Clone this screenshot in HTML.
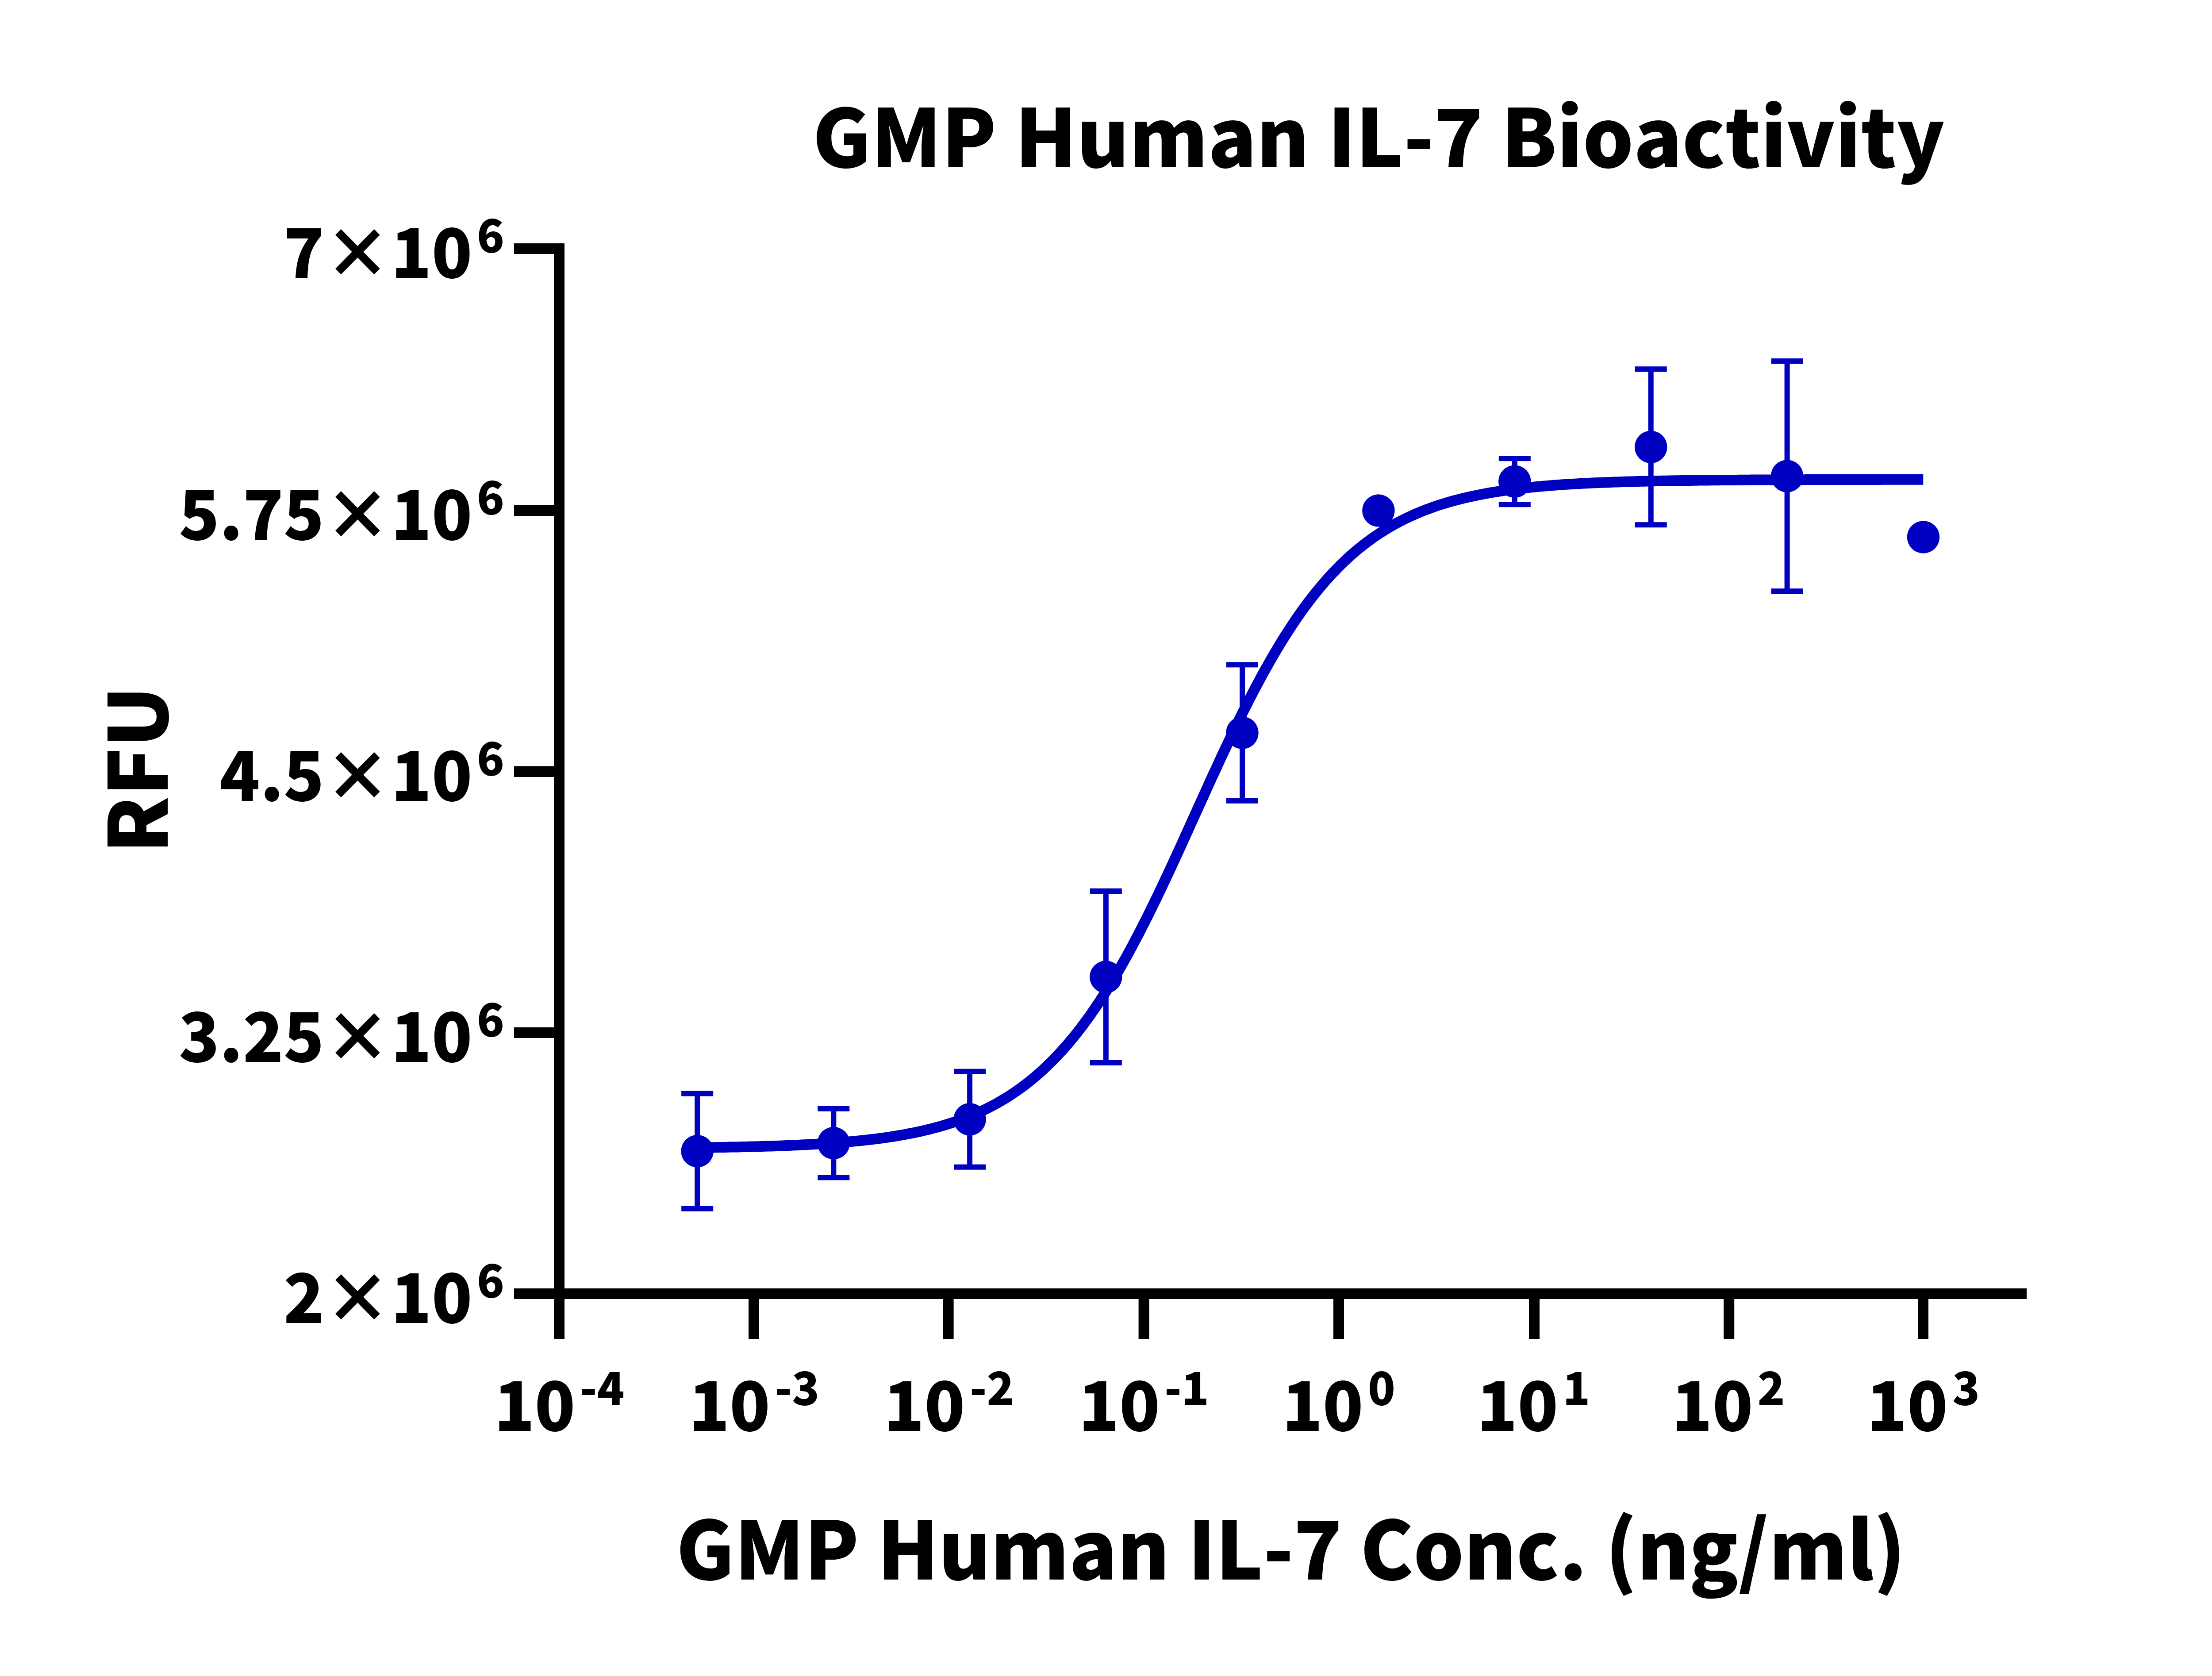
<!DOCTYPE html><html><head><meta charset="utf-8"><title>GMP Human IL-7 Bioactivity</title><style>html,body{margin:0;padding:0;background:#fff;overflow:hidden;}svg{display:block}text{font-family:'Noto Sans CJK SC', 'Noto Sans CJK JP', 'Liberation Sans', sans-serif;font-weight:900;font-kerning:none;fill:#000}</style></head><body>
<svg width="5094" height="3788" viewBox="0 0 5094 3788">
<rect x="0" y="0" width="5094" height="3788" fill="#fff"/>
<g fill="#000">
<rect x="1252" y="550" width="24" height="2476"/>
<rect x="1162" y="550.00" width="114" height="24"/>
<rect x="1162" y="1142.00" width="114" height="24"/>
<rect x="1162" y="1732.00" width="114" height="24"/>
<rect x="1162" y="2322.00" width="114" height="24"/>
<rect x="1162" y="2912.00" width="114" height="24"/>
<rect x="1252" y="2912" width="3329" height="24"/>
<rect x="1252.00" y="2912" width="24" height="114"/>
<rect x="1692.00" y="2912" width="24" height="114"/>
<rect x="2131.60" y="2912" width="24" height="114"/>
<rect x="2573.60" y="2912" width="24" height="114"/>
<rect x="3014.00" y="2912" width="24" height="114"/>
<rect x="3456.00" y="2912" width="24" height="114"/>
<rect x="3896.20" y="2912" width="24" height="114"/>
<rect x="4335.00" y="2912" width="24" height="114"/>
</g>
<text transform="translate(1836.7,378.2) scale(1,1)" font-size="181">GMP Human IL-7 Bioactivity</text>
<text transform="translate(1528.5,3569.5) scale(1,1.01)" font-size="179.8">GMP Human IL-7 Conc. (ng/ml)</text>
<text transform="translate(378.5,1929) rotate(-90)" x="0" y="0" font-size="182.4">RFU</text>
<text transform="translate(1140,628.20) scale(1,1.018)" font-size="150.9" text-anchor="end">7×10<tspan font-size="101.6" dx="10.6" dy="-56.3">6</tspan></text>
<text transform="translate(1140,1220.20) scale(1,1.018)" font-size="150.9" text-anchor="end">5.75×10<tspan font-size="101.6" dx="10.6" dy="-56.3">6</tspan></text>
<text transform="translate(1140,1810.20) scale(1,1.018)" font-size="150.9" text-anchor="end">4.5×10<tspan font-size="101.6" dx="10.6" dy="-56.3">6</tspan></text>
<text transform="translate(1140,2400.20) scale(1,1.018)" font-size="150.9" text-anchor="end">3.25×10<tspan font-size="101.6" dx="10.6" dy="-56.3">6</tspan></text>
<text transform="translate(1140,2990.20) scale(1,1.018)" font-size="150.9" text-anchor="end">2×10<tspan font-size="101.6" dx="10.6" dy="-56.3">6</tspan></text>
<text transform="translate(1264.15,3233.6) scale(1,1.018)" font-size="150.9" text-anchor="middle">10<tspan font-size="101.6" dx="10.3" dy="-56.3">-4</tspan></text>
<text transform="translate(1704.58,3233.6) scale(1,1.018)" font-size="150.9" text-anchor="middle">10<tspan font-size="101.6" dx="10.3" dy="-56.3">-3</tspan></text>
<text transform="translate(2145.01,3233.6) scale(1,1.018)" font-size="150.9" text-anchor="middle">10<tspan font-size="101.6" dx="10.3" dy="-56.3">-2</tspan></text>
<text transform="translate(2585.44,3233.6) scale(1,1.018)" font-size="150.9" text-anchor="middle">10<tspan font-size="101.6" dx="10.3" dy="-56.3">-1</tspan></text>
<text transform="translate(3025.86,3233.6) scale(1,1.018)" font-size="150.9" text-anchor="middle">10<tspan font-size="101.6" dx="10.3" dy="-56.3">0</tspan></text>
<text transform="translate(3466.29,3233.6) scale(1,1.018)" font-size="150.9" text-anchor="middle">10<tspan font-size="101.6" dx="10.3" dy="-56.3">1</tspan></text>
<text transform="translate(3906.72,3233.6) scale(1,1.018)" font-size="150.9" text-anchor="middle">10<tspan font-size="101.6" dx="10.3" dy="-56.3">2</tspan></text>
<text transform="translate(4347.15,3233.6) scale(1,1.018)" font-size="150.9" text-anchor="middle">10<tspan font-size="101.6" dx="10.3" dy="-56.3">3</tspan></text>
<path d="M1576.0,2593.8 L1582.9,2593.7 L1589.9,2593.6 L1596.8,2593.5 L1603.7,2593.4 L1610.6,2593.3 L1617.6,2593.2 L1624.5,2593.1 L1631.4,2593.0 L1638.4,2592.9 L1645.3,2592.8 L1652.2,2592.6 L1659.1,2592.5 L1666.1,2592.4 L1673.0,2592.2 L1679.9,2592.1 L1686.9,2591.9 L1693.8,2591.7 L1700.7,2591.6 L1707.6,2591.4 L1714.6,2591.2 L1721.5,2591.0 L1728.4,2590.8 L1735.3,2590.6 L1742.3,2590.4 L1749.2,2590.2 L1756.1,2589.9 L1763.1,2589.7 L1770.0,2589.4 L1776.9,2589.1 L1783.8,2588.9 L1790.8,2588.6 L1797.7,2588.3 L1804.6,2588.0 L1811.6,2587.6 L1818.5,2587.3 L1825.4,2587.0 L1832.3,2586.6 L1839.3,2586.2 L1846.2,2585.8 L1853.1,2585.4 L1860.1,2585.0 L1867.0,2584.5 L1873.9,2584.1 L1880.8,2583.6 L1887.8,2583.1 L1894.7,2582.5 L1901.6,2582.0 L1908.6,2581.4 L1915.5,2580.8 L1922.4,2580.2 L1929.3,2579.6 L1936.3,2578.9 L1943.2,2578.2 L1950.1,2577.5 L1957.1,2576.7 L1964.0,2576.0 L1970.9,2575.1 L1977.8,2574.3 L1984.8,2573.4 L1991.7,2572.5 L1998.6,2571.6 L2005.6,2570.6 L2012.5,2569.5 L2019.4,2568.5 L2026.3,2567.4 L2033.3,2566.2 L2040.2,2565.0 L2047.1,2563.7 L2054.0,2562.4 L2061.0,2561.1 L2067.9,2559.7 L2074.8,2558.2 L2081.8,2556.7 L2088.7,2555.1 L2095.6,2553.5 L2102.5,2551.8 L2109.5,2550.0 L2116.4,2548.2 L2123.3,2546.3 L2130.3,2544.3 L2137.2,2542.2 L2144.1,2540.1 L2151.0,2537.9 L2158.0,2535.6 L2164.9,2533.2 L2171.8,2530.7 L2178.8,2528.1 L2185.7,2525.5 L2192.6,2522.7 L2199.5,2519.8 L2206.5,2516.8 L2213.4,2513.8 L2220.3,2510.6 L2227.3,2507.2 L2234.2,2503.8 L2241.1,2500.2 L2248.0,2496.5 L2255.0,2492.7 L2261.9,2488.7 L2268.8,2484.6 L2275.8,2480.4 L2282.7,2476.0 L2289.6,2471.4 L2296.5,2466.7 L2303.5,2461.9 L2310.4,2456.8 L2317.3,2451.6 L2324.3,2446.2 L2331.2,2440.7 L2338.1,2435.0 L2345.0,2429.0 L2352.0,2422.9 L2358.9,2416.6 L2365.8,2410.1 L2372.7,2403.4 L2379.7,2396.5 L2386.6,2389.4 L2393.5,2382.1 L2400.5,2374.5 L2407.4,2366.7 L2414.3,2358.8 L2421.2,2350.5 L2428.2,2342.1 L2435.1,2333.4 L2442.0,2324.5 L2449.0,2315.4 L2455.9,2306.0 L2462.8,2296.4 L2469.7,2286.5 L2476.7,2276.4 L2483.6,2266.1 L2490.5,2255.5 L2497.5,2244.7 L2504.4,2233.7 L2511.3,2222.4 L2518.2,2210.9 L2525.2,2199.2 L2532.1,2187.2 L2539.0,2175.0 L2546.0,2162.6 L2552.9,2149.9 L2559.8,2137.1 L2566.7,2124.0 L2573.7,2110.8 L2580.6,2097.3 L2587.5,2083.7 L2594.5,2069.9 L2601.4,2055.9 L2608.3,2041.8 L2615.2,2027.5 L2622.2,2013.0 L2629.1,1998.4 L2636.0,1983.7 L2643.0,1968.9 L2649.9,1954.0 L2656.8,1939.0 L2663.7,1923.9 L2670.7,1908.7 L2677.6,1893.5 L2684.5,1878.2 L2691.4,1862.9 L2698.4,1847.6 L2705.3,1832.3 L2712.2,1817.0 L2719.2,1801.7 L2726.1,1786.4 L2733.0,1771.2 L2739.9,1756.1 L2746.9,1741.0 L2753.8,1726.0 L2760.7,1711.0 L2767.7,1696.2 L2774.6,1681.5 L2781.5,1666.9 L2788.4,1652.5 L2795.4,1638.2 L2802.3,1624.0 L2809.2,1610.0 L2816.2,1596.2 L2823.1,1582.6 L2830.0,1569.1 L2836.9,1555.9 L2843.9,1542.8 L2850.8,1529.9 L2857.7,1517.3 L2864.7,1504.9 L2871.6,1492.7 L2878.5,1480.7 L2885.4,1469.0 L2892.4,1457.4 L2899.3,1446.1 L2906.2,1435.1 L2913.2,1424.3 L2920.1,1413.7 L2927.0,1403.4 L2933.9,1393.3 L2940.9,1383.4 L2947.8,1373.8 L2954.7,1364.4 L2961.7,1355.3 L2968.6,1346.4 L2975.5,1337.7 L2982.4,1329.2 L2989.4,1321.0 L2996.3,1313.0 L3003.2,1305.2 L3010.1,1297.7 L3017.1,1290.4 L3024.0,1283.2 L3030.9,1276.3 L3037.9,1269.6 L3044.8,1263.1 L3051.7,1256.8 L3058.6,1250.7 L3065.6,1244.7 L3072.5,1239.0 L3079.4,1233.5 L3086.4,1228.1 L3093.3,1222.9 L3100.2,1217.8 L3107.1,1213.0 L3114.1,1208.2 L3121.0,1203.7 L3127.9,1199.3 L3134.9,1195.0 L3141.8,1190.9 L3148.7,1187.0 L3155.6,1183.1 L3162.6,1179.4 L3169.5,1175.9 L3176.4,1172.4 L3183.4,1169.1 L3190.3,1165.9 L3197.2,1162.8 L3204.1,1159.8 L3211.1,1156.9 L3218.0,1154.2 L3224.9,1151.5 L3231.9,1148.9 L3238.8,1146.4 L3245.7,1144.0 L3252.6,1141.7 L3259.6,1139.5 L3266.5,1137.4 L3273.4,1135.3 L3280.3,1133.3 L3287.3,1131.4 L3294.2,1129.6 L3301.1,1127.8 L3308.1,1126.1 L3315.0,1124.5 L3321.9,1122.9 L3328.8,1121.4 L3335.8,1119.9 L3342.7,1118.5 L3349.6,1117.2 L3356.6,1115.9 L3363.5,1114.6 L3370.4,1113.4 L3377.3,1112.2 L3384.3,1111.1 L3391.2,1110.1 L3398.1,1109.0 L3405.1,1108.0 L3412.0,1107.1 L3418.9,1106.2 L3425.8,1105.3 L3432.8,1104.4 L3439.7,1103.6 L3446.6,1102.8 L3453.6,1102.1 L3460.5,1101.4 L3467.4,1100.7 L3474.3,1100.0 L3481.3,1099.4 L3488.2,1098.7 L3495.1,1098.2 L3502.1,1097.6 L3509.0,1097.0 L3515.9,1096.5 L3522.8,1096.0 L3529.8,1095.5 L3536.7,1095.1 L3543.6,1094.6 L3550.6,1094.2 L3557.5,1093.8 L3564.4,1093.4 L3571.3,1093.0 L3578.3,1092.6 L3585.2,1092.3 L3592.1,1091.9 L3599.0,1091.6 L3606.0,1091.3 L3612.9,1091.0 L3619.8,1090.7 L3626.8,1090.4 L3633.7,1090.2 L3640.6,1089.9 L3647.5,1089.6 L3654.5,1089.4 L3661.4,1089.2 L3668.3,1089.0 L3675.3,1088.8 L3682.2,1088.6 L3689.1,1088.4 L3696.0,1088.2 L3703.0,1088.0 L3709.9,1087.8 L3716.8,1087.7 L3723.8,1087.5 L3730.7,1087.4 L3737.6,1087.2 L3744.5,1087.1 L3751.5,1086.9 L3758.4,1086.8 L3765.3,1086.7 L3772.3,1086.6 L3779.2,1086.5 L3786.1,1086.3 L3793.0,1086.2 L3800.0,1086.1 L3806.9,1086.0 L3813.8,1085.9 L3820.8,1085.9 L3827.7,1085.8 L3834.6,1085.7 L3841.5,1085.6 L3848.5,1085.5 L3855.4,1085.5 L3862.3,1085.4 L3869.3,1085.3 L3876.2,1085.3 L3883.1,1085.2 L3890.0,1085.1 L3897.0,1085.1 L3903.9,1085.0 L3910.8,1085.0 L3917.7,1084.9 L3924.7,1084.9 L3931.6,1084.8 L3938.5,1084.8 L3945.5,1084.7 L3952.4,1084.7 L3959.3,1084.6 L3966.2,1084.6 L3973.2,1084.6 L3980.1,1084.5 L3987.0,1084.5 L3994.0,1084.5 L4000.9,1084.4 L4007.8,1084.4 L4014.7,1084.4 L4021.7,1084.4 L4028.6,1084.3 L4035.5,1084.3 L4042.5,1084.3 L4049.4,1084.3 L4056.3,1084.2 L4063.2,1084.2 L4070.2,1084.2 L4077.1,1084.2 L4084.0,1084.1 L4091.0,1084.1 L4097.9,1084.1 L4104.8,1084.1 L4111.7,1084.1 L4118.7,1084.1 L4125.6,1084.0 L4132.5,1084.0 L4139.5,1084.0 L4146.4,1084.0 L4153.3,1084.0 L4160.2,1084.0 L4167.2,1084.0 L4174.1,1084.0 L4181.0,1083.9 L4188.0,1083.9 L4194.9,1083.9 L4201.8,1083.9 L4208.7,1083.9 L4215.7,1083.9 L4222.6,1083.9 L4229.5,1083.9 L4236.4,1083.9 L4243.4,1083.9 L4250.3,1083.9 L4257.2,1083.8 L4264.2,1083.8 L4271.1,1083.8 L4278.0,1083.8 L4284.9,1083.8 L4291.9,1083.8 L4298.8,1083.8 L4305.7,1083.8 L4312.7,1083.8 L4319.6,1083.8 L4326.5,1083.8 L4333.4,1083.8 L4340.4,1083.8 L4347.3,1083.8" fill="none" stroke="#0000C0" stroke-width="24" stroke-linejoin="round"/>
<g fill="#0000C0">
<rect x="1570.20" y="2471.60" width="12" height="260.20"/>
<rect x="1540.20" y="2465.60" width="72" height="12"/>
<rect x="1540.20" y="2725.80" width="72" height="12"/>
<rect x="1878.30" y="2505.80" width="12" height="155.60"/>
<rect x="1848.30" y="2499.80" width="72" height="12"/>
<rect x="1848.30" y="2655.40" width="72" height="12"/>
<rect x="2186.10" y="2421.70" width="12" height="216.00"/>
<rect x="2156.10" y="2415.70" width="72" height="12"/>
<rect x="2156.10" y="2631.70" width="72" height="12"/>
<rect x="2493.80" y="2014.00" width="12" height="388.00"/>
<rect x="2463.80" y="2008.00" width="72" height="12"/>
<rect x="2463.80" y="2396.00" width="72" height="12"/>
<rect x="2802.00" y="1502.40" width="12" height="307.60"/>
<rect x="2772.00" y="1496.40" width="72" height="12"/>
<rect x="2772.00" y="1804.00" width="72" height="12"/>
<rect x="3417.80" y="1036.20" width="12" height="104.00"/>
<rect x="3387.80" y="1030.20" width="72" height="12"/>
<rect x="3387.80" y="1134.20" width="72" height="12"/>
<rect x="3725.70" y="834.20" width="12" height="352.00"/>
<rect x="3695.70" y="828.20" width="72" height="12"/>
<rect x="3695.70" y="1180.20" width="72" height="12"/>
<rect x="4033.60" y="816.10" width="12" height="520.00"/>
<rect x="4003.60" y="810.10" width="72" height="12"/>
<rect x="4003.60" y="1330.10" width="72" height="12"/>
<circle cx="1576.20" cy="2601.70" r="36.75"/>
<circle cx="1884.30" cy="2583.60" r="36.75"/>
<circle cx="2192.10" cy="2529.70" r="36.75"/>
<circle cx="2499.80" cy="2208.00" r="36.75"/>
<circle cx="2808.00" cy="1656.20" r="36.75"/>
<circle cx="3115.90" cy="1154.10" r="36.75"/>
<circle cx="3423.80" cy="1088.20" r="36.75"/>
<circle cx="3731.70" cy="1010.20" r="36.75"/>
<circle cx="4039.60" cy="1076.10" r="36.75"/>
<circle cx="4347.50" cy="1213.90" r="36.75"/>
</g>
</svg></body></html>
